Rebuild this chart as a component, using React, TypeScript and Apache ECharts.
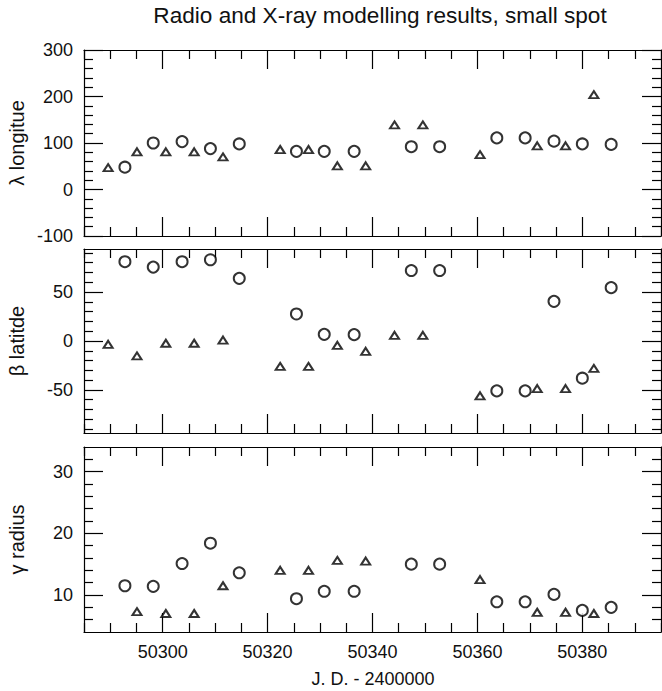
import React, { useEffect, useRef } from "react";
import * as echarts from "echarts";

// ---- Data ----
const xMajorTicks = [50300, 50320, 50340, 50360, 50380];
const xMinorTicks = [
  50285, 50290, 50295, 50305, 50310, 50315, 50325, 50330, 50335,
  50345, 50350, 50355, 50365, 50370, 50375, 50385, 50390, 50395,
];

const circleJD = [
  50292.8, 50298.2, 50303.7, 50309.1, 50314.6, 50325.5, 50330.8, 50336.5, 50347.4, 50352.8,
  50363.7, 50369.1, 50374.6, 50380.0, 50385.5,
];
const triangleJD = [
  50289.6, 50295.1, 50300.6, 50306.0, 50311.5, 50322.4, 50327.8, 50333.3, 50338.7, 50344.2,
  50349.6, 50360.5, 50371.4, 50376.8, 50382.2,
];

const longitudeCircles = [48, 100, 103, 88, 98, 82, 82, 82, 92, 92, 111, 111, 104, 98, 97];
const longitudeTriangles = [47, 81, 81, 81, 70, 86, 86, 51, 51, 139, 139, 75, 94, 94, 204];

const latitudeCircles = [81, 75.5, 81, 83, 64, 27.6, 6.8, 6.5, 72, 72, -51, -51, 40.5, -38, 54.5];
const latitudeTriangles = [-3.4, -15.3, -2.3, -2.3, 1, -26, -26, -4.4, -10.5, 5.8, 5.8, -56, -48.6, -48.6, -28];

const radiusCircles = [11.5, 11.4, 15.1, 18.4, 13.6, 9.4, 10.6, 10.6, 15.0, 15.0, 8.9, 8.9, 10.1, 7.5, 8.0];
const radiusTriangles = [null, 7.3, 7.0, 7.0, 11.5, 14.0, 14.0, 15.6, 15.5, null, null, 12.5, 7.2, 7.2, 7.0];

const longitudeMajor = [-100, 0, 100, 200, 300];
const longitudeMinor = [-80, -60, -40, -20, 20, 40, 60, 80, 120, 140, 160, 180, 220, 240, 260, 280];
const latitudeMajor = [-50, 0, 50];
const latitudeMinor = [-90, -80, -70, -60, -40, -30, -20, -10, 10, 20, 30, 40, 60, 70, 80, 90];
const radiusMajor = [10, 20, 30];
const radiusMinor = [6, 8, 12, 14, 16, 18, 22, 24, 26, 28, 32];

const titleText = "Radio and X-ray modelling results, small spot";
const yNames = ["λ longitue", "β latitde", "γ radius"];
const xName = "J. D. - 2400000";

// ---- Layout ----
const FONT = "'Liberation Sans', Arial, Helvetica, sans-serif";
const X_MIN = 50285;
const X_MAX = 50395;
const GRID_LEFT = 84;
const GRID_WIDTH = 577;
const grids = [
  { top: 50, height: 186 },
  { top: 249, height: 184 },
  { top: 447, height: 185 },
];
const yRanges = [
  { min: -100, max: 300, major: longitudeMajor, minor: longitudeMinor },
  { min: -94, max: 94, major: latitudeMajor, minor: latitudeMinor },
  { min: 4, max: 34, major: radiusMajor, minor: radiusMinor },
];

const lineStyle = { color: "#000", width: 1.2 };

function buildXAxes(g: number, showLabels: boolean) {
  const base = {
    type: "value",
    gridIndex: g,
    min: X_MIN,
    max: X_MAX,
    splitLine: { show: false },
  };
  const major = (position: string, labels: boolean) => ({
    ...base,
    position,
    axisLine: { show: true, onZero: false, lineStyle },
    axisTick: { show: true, inside: true, length: 19, customValues: xMajorTicks, lineStyle },
    axisLabel: {
      show: labels,
      customValues: xMajorTicks,
      formatter: (v: number) => String(v),
      fontSize: 18,
      fontFamily: FONT,
      color: "#111",
      margin: 11,
    },
  });
  const minor = (position: string) => ({
    ...base,
    position,
    axisLine: { show: false, onZero: false },
    axisTick: { show: true, inside: true, length: 9, customValues: xMinorTicks, lineStyle },
    axisLabel: { show: false },
  });
  return [major("bottom", showLabels), minor("bottom"), major("top", false), minor("top")];
}

function buildYAxes(g: number) {
  const r = yRanges[g];
  const base = {
    type: "value",
    gridIndex: g,
    min: r.min,
    max: r.max,
    splitLine: { show: false },
  };
  const major = (position: string, labels: boolean) => ({
    ...base,
    position,
    axisLine: { show: true, onZero: false, lineStyle },
    axisTick: { show: true, inside: true, length: 19, customValues: r.major, lineStyle },
    axisLabel: {
      show: labels,
      customValues: r.major,
      showMinLabel: true,
      showMaxLabel: true,
      formatter: (v: number) => String(v),
      fontSize: 18,
      fontFamily: FONT,
      color: "#111",
      margin: 11,
    },
  });
  const minor = (position: string) => ({
    ...base,
    position,
    axisLine: { show: false, onZero: false },
    axisTick: { show: true, inside: true, length: 9, customValues: r.minor, lineStyle },
    axisLabel: { show: false },
  });
  return [major("left", true), minor("left"), major("right", false), minor("right")];
}

function pairs(xs: number[], ys: (number | null)[]) {
  const out: number[][] = [];
  xs.forEach((x, i) => {
    const y = ys[i];
    if (y !== null && y !== undefined) out.push([x, y]);
  });
  return out;
}

const panelData = [
  { circles: longitudeCircles, triangles: longitudeTriangles },
  { circles: latitudeCircles, triangles: latitudeTriangles },
  { circles: radiusCircles, triangles: radiusTriangles },
];

export default function App() {
  const ref = useRef<HTMLDivElement>(null);
  useEffect(() => {
    if (!ref.current) return;
    const chart = echarts.init(ref.current, undefined, { renderer: "svg" });

    const xAxis: any[] = [];
    const yAxis: any[] = [];
    const series: any[] = [];
    grids.forEach((_, g) => {
      xAxis.push(...buildXAxes(g, g === 2));
      yAxis.push(...buildYAxes(g));
      series.push({
        type: "scatter",
        xAxisIndex: g * 4,
        yAxisIndex: g * 4,
        symbol: "emptyCircle",
        symbolSize: 11,
        itemStyle: { color: "#000", borderColor: "#000", borderWidth: 1 },
        data: pairs(circleJD, panelData[g].circles),
      });
      series.push({
        type: "scatter",
        xAxisIndex: g * 4,
        yAxisIndex: g * 4,
        symbol: "emptyTriangle",
        symbolSize: [9, 7],
        itemStyle: { color: "#000", borderColor: "#000", borderWidth: 1 },
        data: pairs(triangleJD, panelData[g].triangles),
      });
    });

    const graphic: any[] = [
      {
        type: "text",
        x: 380,
        y: 15,
        style: {
          text: titleText,
          fontSize: 22.6,
          fontFamily: FONT,
          fill: "#111",
          align: "center",
          verticalAlign: "middle",
        },
      },
      {
        type: "text",
        x: 373,
        y: 679,
        style: {
          text: xName,
          fontSize: 18,
          fontFamily: FONT,
          fill: "#111",
          align: "center",
          verticalAlign: "middle",
        },
      },
    ];
    grids.forEach((gr, g) => {
      graphic.push({
        type: "text",
        x: 17,
        y: gr.top + gr.height / 2,
        rotation: Math.PI / 2,
        style: {
          text: yNames[g],
          fontSize: 20,
          fontFamily: FONT,
          fill: "#111",
          align: "center",
          verticalAlign: "middle",
        },
      });
    });

    chart.setOption({
      animation: false,
      backgroundColor: "#fff",
      grid: grids.map((gr) => ({ left: GRID_LEFT, width: GRID_WIDTH, top: gr.top, height: gr.height })),
      xAxis,
      yAxis,
      series,
      graphic,
    });
    return () => chart.dispose();
  }, []);
  return (
    <div
      ref={ref}
      style={{ position: "fixed", left: 0, top: 0, width: 662, height: 691, background: "#fff" }}
    />
  );
}
